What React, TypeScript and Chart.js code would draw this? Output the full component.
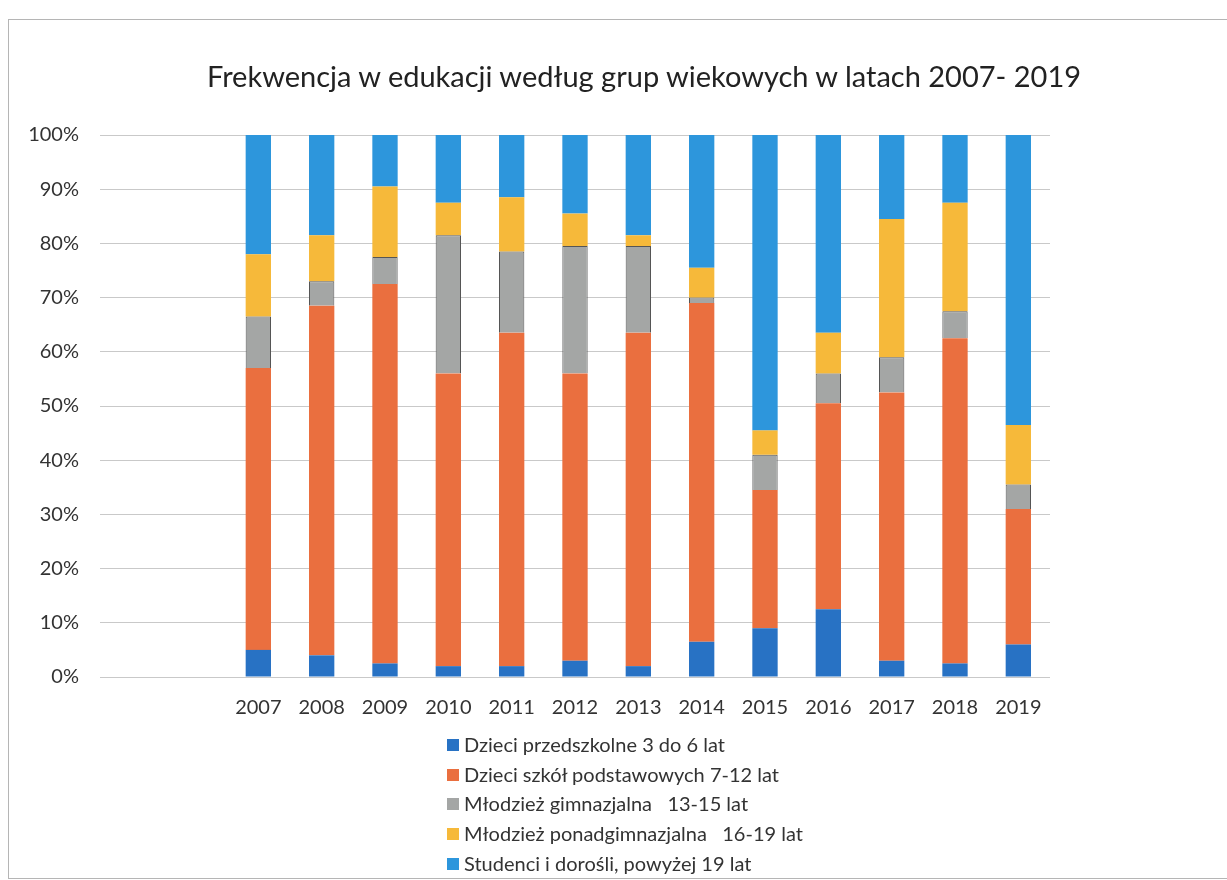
import React, { useEffect, useRef } from "react";
import { Chart, registerables } from "chart.js";

Chart.register(...registerables);

const title = "Frekwencja w edukacji według grup wiekowych w latach 2007- 2019";
const years = ["", "", "2007", "2008", "2009", "2010", "2011", "2012", "2013", "2014", "2015", "2016", "2017", "2018", "2019"];
const yTicks = [0, 10, 20, 30, 40, 50, 60, 70, 80, 90, 100];

const seriesNames = [
  "Dzieci przedszkolne 3 do 6 lat",
  "Dzieci szkół podstawowych 7-12 lat",
  "Młodzież gimnazjalna   13-15 lat",
  "Młodzież ponadgimnazjalna   16-19 lat",
  "Studenci i dorośli, powyżej 19 lat",
];
const seriesColors = ["#2872C4", "#EA6F3F", "#A4A6A5", "#F6B93A", "#2D96DC"];
const seriesBorders = ["#2872C4", "#E8602F", "#555555", "#F6B93A", "#2D96DC"];

const przedszkolne = [null, null, 5, 4, 2.5, 2, 2, 3, 2, 6.5, 9, 12.5, 3, 2.5, 6];
const podstawowe = [null, null, 52, 64.5, 70, 54, 61.5, 53, 61.5, 62.5, 25.5, 38, 49.5, 60, 25];
const gimnazjalna = [null, null, 9.5, 4.5, 5, 25.5, 15, 23.5, 16, 1, 6.5, 5.5, 6.5, 5, 4.5];
const ponadgimnazjalna = [null, null, 11.5, 8.5, 13, 6, 10, 6, 2, 5.5, 4.5, 7.5, 25.5, 20, 11];
const studenci = [null, null, 22, 18.5, 9.5, 12.5, 11.5, 14.5, 18.5, 24.5, 54.5, 36.5, 15.5, 12.5, 53.5];

const seriesValues = [przedszkolne, podstawowe, gimnazjalna, ponadgimnazjalna, studenci];

const FONT = "Lato, 'Open Sans', sans-serif";

export default function App() {
  const ref = useRef<HTMLCanvasElement | null>(null);

  useEffect(() => {
    if (!ref.current) return;
    const chart = new Chart(ref.current, {
      type: "bar",
      data: {
        labels: years,
        datasets: seriesNames.map((name, i) => ({
          label: name,
          data: seriesValues[i],
          backgroundColor: seriesColors[i],
          borderColor: seriesBorders[i],
          borderWidth: i === 2 ? 1 : 0,
          categoryPercentage: 0.8,
          barPercentage: 0.5,
        })),
      },
      options: {
        animation: false,
        responsive: false,
        maintainAspectRatio: false,
        layout: { padding: { left: 20, right: 177, top: 135, bottom: 20 } },
        plugins: {
          legend: { display: false },
          title: { display: false },
          tooltip: { enabled: false },
        },
        scales: {
          x: {
            stacked: true,
            grid: { display: false, drawTicks: false },
            border: { display: false },
            ticks: {
              color: "#333",
              font: { family: FONT, size: 20 },
              padding: 19,
              maxRotation: 0,
              autoSkip: false,
            },
          },
          y: {
            stacked: true,
            min: 0,
            max: 100,
            afterFit: (scale: any) => {
              scale.width = 80;
            },
            afterBuildTicks: (scale: any) => {
              scale.ticks = yTicks.map((v) => ({ value: v }));
            },
            grid: { color: "#C9C9C9", lineWidth: 1, drawTicks: false },
            border: { display: false },
            ticks: {
              color: "#333",
              font: { family: FONT, size: 20 },
              padding: 21,
              callback: (v: any) => `${v}%`,
            },
          },
        },
      },
    });
    return () => chart.destroy();
  }, []);

  return (
    <div style={{ position: "absolute", left: 0, top: 0, width: 1227, height: 880, overflow: "hidden", background: "#fff" }}>
      <div
        style={{
          position: "absolute",
          left: 8,
          top: 19,
          width: 1240,
          height: 858,
          borderTop: "1px solid #B5B5B5",
          borderLeft: "1px solid #B5B5B5",
          borderBottom: "1px solid #B5B5B5",
        }}
      />
      <canvas ref={ref} width={1227} height={759} style={{ position: "absolute", left: 0, top: 0 }} />
      <div
        style={{
          position: "absolute",
          left: 207,
          top: 59,
          fontFamily: FONT,
          fontSize: 29,
          lineHeight: "34px",
          color: "#222",
          whiteSpace: "nowrap",
        }}
      >
        {title}
      </div>
      <div style={{ position: "absolute", left: 447, top: 730, fontFamily: FONT, fontSize: 20, color: "#333" }}>
        {seriesNames.map((name, i) => (
          <div key={name} style={{ height: 29.7, lineHeight: "29.7px", display: "flex", alignItems: "center", whiteSpace: "pre" }}>
            <span style={{ display: "inline-block", width: 12, height: 12, background: seriesColors[i], marginRight: 5 }} />
            <span>{name}</span>
          </div>
        ))}
      </div>
    </div>
  );
}
